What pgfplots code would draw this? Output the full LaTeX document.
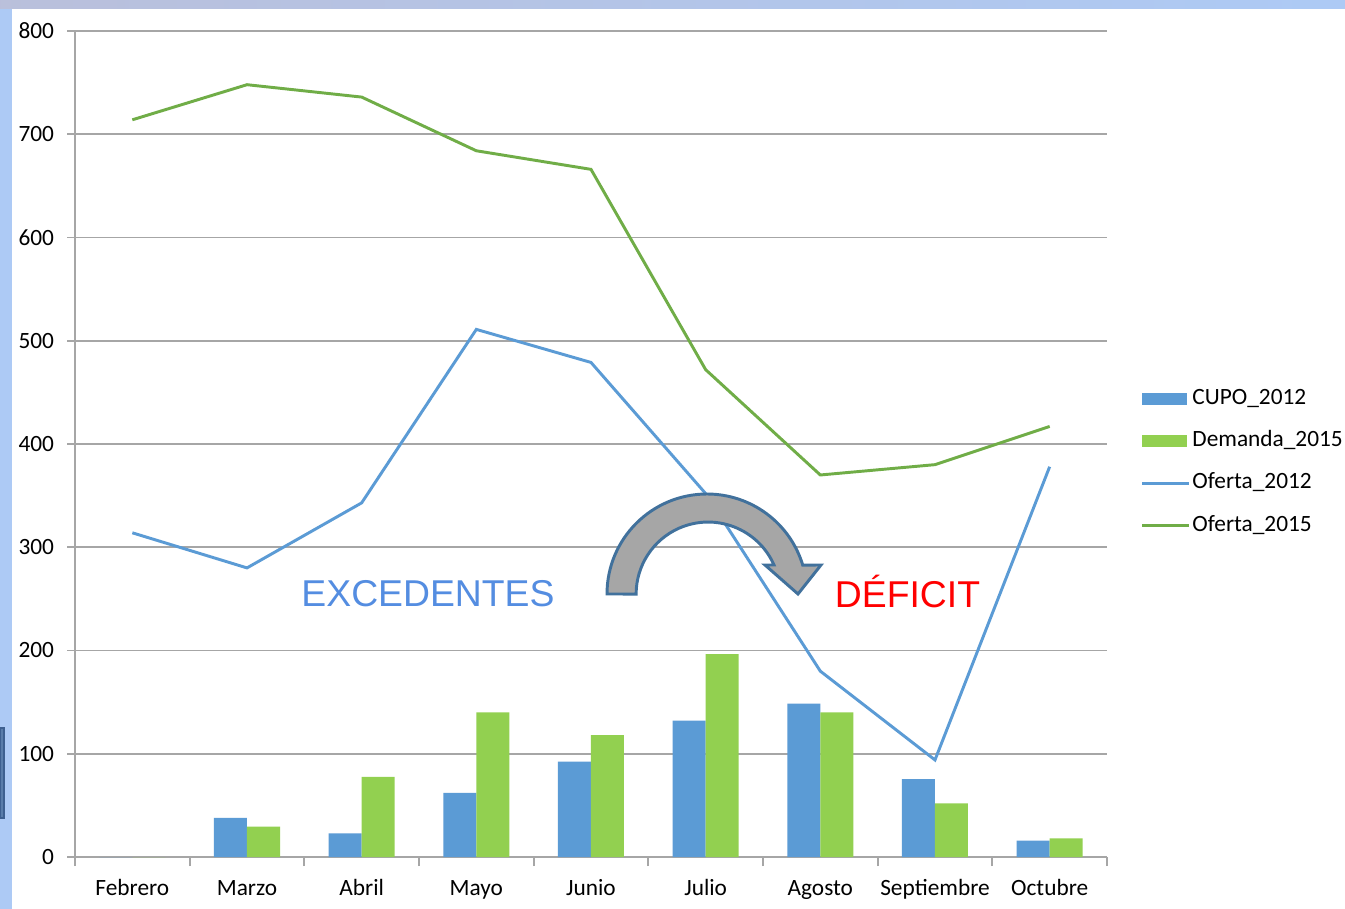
\documentclass[border=0pt]{standalone}
\usepackage{fontspec}
\setmainfont{Carlito}
\newfontfamily\arialfont{Liberation Sans}
\usepackage{pgfplots}
\pgfplotsset{compat=1.18}
\definecolor{cupo}{HTML}{5B9BD5}
\definecolor{dem}{HTML}{92D050}
\definecolor{of12}{HTML}{5B9BD5}
\definecolor{of15}{HTML}{70AD47}
\definecolor{gridc}{HTML}{A6A6A6}
\definecolor{bgblue}{HTML}{ADCAF5}
\definecolor{bgmauve}{HTML}{BFBBD0}
\definecolor{excol}{RGB}{84,141,225}
\definecolor{arrowfill}{HTML}{A6A6A6}
\definecolor{arrowdraw}{HTML}{41719C}
\definecolor{boxfill}{HTML}{5A7DAA}
\definecolor{boxdraw}{HTML}{3E6090}
\begin{document}
\begin{tikzpicture}
\begin{scope}[x=0.75pt,y=-0.75pt]
\useasboundingbox (0,0) rectangle (1345,909);
\shade[top color=bgblue, middle color=bgmauve, bottom color=bgblue] (0,0) rectangle (12,909);
\shade[left color=bgmauve!70!bgblue, right color=bgblue] (0,0) rectangle (1345,9);
\fill[white] (12,9) rectangle (1345,909);
\filldraw[fill=boxfill, draw=boxdraw, line width=0.8pt] (0,728) rectangle (4,818);
\coordinate (sw) at (75,857);
\end{scope}
\begin{axis}[
  at={(sw)}, anchor=south west,
  width=774pt, height=619.5pt, scale only axis,
  xmin=-0.5, xmax=8.5, ymin=0, ymax=800,
  clip=false,
  axis line style={draw=none},
  ymajorgrids, major grid style={gridc, line width=1.4pt},
  ytick={0,100,...,800},
  xtick={0,...,8},
  xticklabels={Febrero,Marzo,Abril,Mayo,Junio,Julio,Agosto,Septiembre,Octubre},
  minor xtick={-0.5,0.5,...,8.5},
  tick align=outside, tick pos=left,
  major tick length=6pt, minor tick length=6.75pt,
  major x tick style={draw=none},
  minor x tick style={gridc, line width=1.4pt},
  major y tick style={gridc, line width=1.4pt},
  /pgf/number format/assume math mode=true,
  yticklabel style={font=\fontsize{17.5}{20}\selectfont, text=black, inner sep=0pt, xshift=-9.5pt},
  xticklabel style={font=\fontsize{17.5}{20}\selectfont, text=black, inner sep=0pt,
    text height=12pt, text depth=4pt, yshift=-10.4pt},
  legend cell align=left,
  legend style={draw=none, fill=none, at={(axis description cs:1.0325,0.5702)}, anchor=north west,
    font=\fontsize{17.5}{20}\selectfont, inner sep=0pt, row sep=13.25pt,
    nodes={inner sep=1.5pt, text height=12pt, text depth=3.5pt}},
]
\draw[gridc, line width=1.4pt] (axis cs:-0.5,0) -- (axis cs:-0.5,800);
\draw[gridc, line width=1.4pt] (axis cs:-0.5,0) -- (axis cs:8.5,0);
\addplot[ybar, bar width=24.75pt, bar shift=-12.375pt, fill=cupo, draw=none,
  legend image code/.code={\fill[cupo] (0pt,-4.5pt) rectangle (33.75pt,4.5pt);}]
  coordinates {(0,0) (1,38) (2,23) (3,62) (4,92.5) (5,132) (6,148.5) (7,75.5) (8,15.8)};
\addlegendentry{CUPO\_2012}
\addplot[ybar, bar width=24.75pt, bar shift=12.375pt, fill=dem, draw=none,
  legend image code/.code={\fill[dem] (0pt,-4.5pt) rectangle (33.75pt,4.5pt);}]
  coordinates {(0,0) (1,29.5) (2,77.5) (3,140.2) (4,118) (5,196.5) (6,140) (7,52) (8,18)};
\addlegendentry{Demanda\_2015}
\addplot[sharp plot, of12, line width=2.2pt, mark=none,
  legend image code/.code={\draw[of12, line width=2.2pt] (0pt,0pt) -- (35pt,0pt);}]
  coordinates {(0,314) (1,280) (2,343) (3,511) (4,479) (5,352) (6,180) (7,94) (8,378)};
\addlegendentry{Oferta\_2012}
\addplot[sharp plot, of15, line width=2.2pt, mark=none,
  legend image code/.code={\draw[of15, line width=2.2pt] (0pt,0pt) -- (35pt,0pt);}]
  coordinates {(0,714) (1,748) (2,736) (3,684) (4,666) (5,472) (6,370) (7,380) (8,417)};
\addlegendentry{Oferta\_2015}
\end{axis}
\begin{scope}[x=0.75pt,y=-0.75pt]
\filldraw[fill=arrowfill, draw=arrowdraw, line width=2.2pt, line join=miter]
  (607,594) arc[start angle=180, end angle=16.8, radius=75pt] -- (821,565) -- (798,594) -- (765,565) -- (774,565)
  arc[start angle=23.8, end angle=180, radius=54pt] -- cycle;
\node[anchor=base, text=excol, font=\arialfont\fontsize{28}{32}\selectfont, inner sep=0pt] at (428,606) {EXCEDENTES};
\node[anchor=base, text=red, font=\arialfont\fontsize{28}{32}\selectfont, inner sep=0pt] at (907.5,607) {DÉFICIT};
\end{scope}
\end{tikzpicture}
\end{document}
